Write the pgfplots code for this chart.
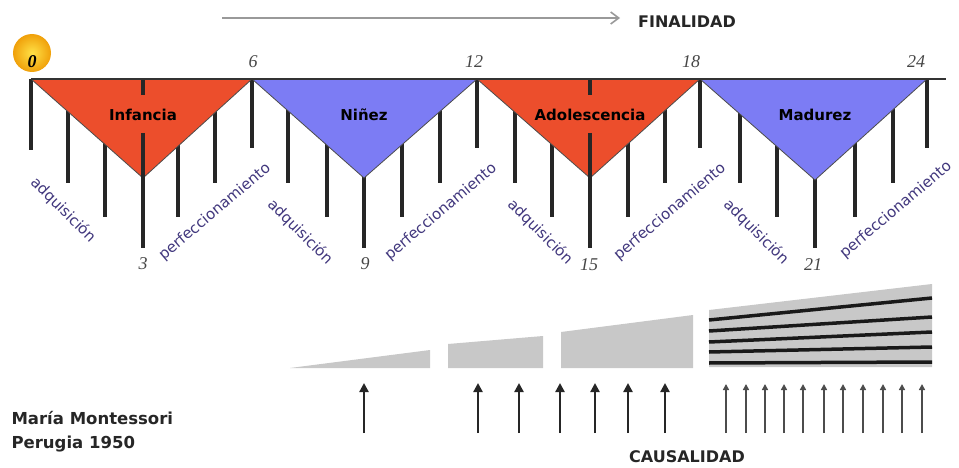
\documentclass[border=0pt]{standalone}
\usepackage{pgfplots}
\pgfplotsset{compat=1.18}
\usetikzlibrary{arrows.meta}
\usepackage{fontspec}
\setmainfont{DejaVu Sans}
\newfontfamily\numfont{Liberation Serif}
\definecolor{redtri}{RGB}{236,78,44}
\definecolor{bluetri}{RGB}{124,124,244}
\definecolor{wedge}{RGB}{200,200,200}
\definecolor{labtxt}{RGB}{65,55,125}
\definecolor{numtxt}{RGB}{70,70,70}
\begin{document}
\begin{tikzpicture}
\begin{axis}[
    hide axis, scale only axis,
    width=959pt, height=468pt,
    xmin=0, xmax=959, ymin=0, ymax=468,
    y dir=reverse, clip=false,
    unbounded coords=jump,
]
% keep the full frame as bounding box
\path (axis cs:0,0) rectangle (axis cs:959,468);
% age lines (one per year, 0..24)
\addplot[black!85, line width=3.5pt] coordinates {
    (31,79)(31,150)(31,nan)
    (68,79)(68,183)(68,nan)
    (105,79)(105,217)(105,nan)
    (143,79)(143,248)(143,nan)
    (178,79)(178,217)(178,nan)
    (215,79)(215,183)(215,nan)
    (252,79)(252,148)(252,nan)
    (288,79)(288,183)(288,nan)
    (327,79)(327,217)(327,nan)
    (364,79)(364,248)(364,nan)
    (402,79)(402,217)(402,nan)
    (440,79)(440,183)(440,nan)
    (477,79)(477,148)(477,nan)
    (515,79)(515,183)(515,nan)
    (552,79)(552,217)(552,nan)
    (590,79)(590,248)(590,nan)
    (628,79)(628,217)(628,nan)
    (665,79)(665,183)(665,nan)
    (700,79)(700,148)(700,nan)
    (740,79)(740,183)(740,nan)
    (777,79)(777,217)(777,nan)
    (815,79)(815,248)(815,nan)
    (855,79)(855,217)(855,nan)
    (893,79)(893,183)(893,nan)
    (927,79)(927,148)
};
% triangles
\addplot[fill=redtri, draw=black!70, line width=0.8pt] coordinates {(31,79) (252,79) (143,178) (31,79)};
\addplot[fill=bluetri, draw=black!70, line width=0.8pt] coordinates {(252,79) (477,79) (364,178) (252,79)};
\addplot[fill=redtri, draw=black!70, line width=0.8pt] coordinates {(477,79) (700,79) (590,178) (477,79)};
\addplot[fill=bluetri, draw=black!70, line width=0.8pt] coordinates {(700,79) (927,79) (815,180) (700,79)};
% centre lines over the red triangles
\addplot[black!85, line width=3.5pt] coordinates {(143,79)(143,95)(143,nan)(143,133)(143,248)};
\addplot[black!85, line width=3.5pt] coordinates {(590,79)(590,95)(590,nan)(590,133)(590,248)};
% baseline
\addplot[black!80, line width=1.2pt] coordinates {(31,79) (946,79)};

\node[font=\bfseries\fontsize{15}{15}\selectfont] at (axis cs:143,115) {Infancia};
\node[font=\bfseries\fontsize{15}{15}\selectfont] at (axis cs:364,115) {Niñez};
\node[font=\bfseries\fontsize{15}{15}\selectfont] at (axis cs:590,115) {Adolescencia};
\node[font=\bfseries\fontsize{15}{15}\selectfont] at (axis cs:815,115) {Madurez};

% sun at 0
\shade[inner color={rgb,255:red,255;green,225;blue,70}, outer color={rgb,255:red,240;green,160;blue,10}]
    (axis cs:32,53) circle[radius=19pt];
\node[font=\numfont\bfseries\itshape\fontsize{18}{18}\selectfont] at (axis cs:32,62) {0};

% age numbers
\begin{scope}[every node/.style={font=\numfont\itshape\fontsize{18}{18}\selectfont, text=numtxt}]
\node at (axis cs:253,62) {6};
\node at (axis cs:474,62) {12};
\node at (axis cs:691,62) {18};
\node at (axis cs:916,62) {24};
\node at (axis cs:143,264) {3};
\node at (axis cs:365,264) {9};
\node at (axis cs:589,265) {15};
\node at (axis cs:813,265) {21};
\end{scope}

% rotated stage words
\begin{scope}[every node/.style={font=\fontsize{15}{15}\selectfont, text=labtxt, inner sep=0pt}]
\node[rotate=-45] at (axis cs:63,210) {adquisición};
\node[rotate=-45] at (axis cs:300,232) {adquisición};
\node[rotate=-45] at (axis cs:540,232) {adquisición};
\node[rotate=-45] at (axis cs:756,232) {adquisición};
\node[rotate=40] at (axis cs:215,212) {perfeccionamiento};
\node[rotate=40] at (axis cs:441,212) {perfeccionamiento};
\node[rotate=40] at (axis cs:670,212) {perfeccionamiento};
\node[rotate=40] at (axis cs:896,210) {perfeccionamiento};
\end{scope}

% finalidad arrow
\addplot[gray!80, line width=1.6pt, -{Straight Barb[length=8pt,width=12pt]}] coordinates {(222,18) (620,18)};
\node[font=\bfseries\fontsize{16}{16}\selectfont, text=black!85] at (axis cs:687,22) {FINALIDAD};

% grey wedges
\addplot[fill=wedge, draw=none] coordinates {(290,368) (430,350) (430,368) (290,368)};
\addplot[fill=wedge, draw=none] coordinates {(448,368) (448,344) (543,336) (543,368) (448,368)};
\addplot[fill=wedge, draw=none] coordinates {(561,368) (561,332) (693,315) (693,368) (561,368)};
\addplot[fill=wedge, draw=none] coordinates {(709,367) (709,310) (932,284) (932,367) (709,367)};
\addplot[black!90, line width=3.5pt] coordinates {(709,320) (932,298)};
\addplot[black!90, line width=3.5pt] coordinates {(709,331) (932,317)};
\addplot[black!90, line width=3.5pt] coordinates {(709,342) (932,332)};
\addplot[black!90, line width=3.5pt] coordinates {(709,352) (932,347)};
\addplot[black!90, line width=3.5pt] coordinates {(709,363) (932,362)};

% causal arrows
\pgfplotsinvokeforeach{364,478,519,560,595,628,665}{
  \addplot[black!85, line width=2.4pt, -{Triangle[length=9pt,width=9pt]}] coordinates {(#1,433) (#1,383)};
}
\pgfplotsinvokeforeach{726,746,765,784,803,824,843,863,883,902,922}{
  \addplot[black!70, line width=1.5pt, -{Triangle[length=6pt,width=6pt]}] coordinates {(#1,433) (#1,384)};
}

\node[font=\bfseries\fontsize{16}{16}\selectfont, text=black!85] at (axis cs:687,457) {CAUSALIDAD};
\node[font=\bfseries\fontsize{16.5}{16.5}\selectfont, text=black!85, anchor=west] at (axis cs:8,418) {María Montessori};
\node[font=\bfseries\fontsize{16.5}{16.5}\selectfont, text=black!85, anchor=west] at (axis cs:8,444) {Perugia 1950};
\end{axis}
\end{tikzpicture}
\end{document}
